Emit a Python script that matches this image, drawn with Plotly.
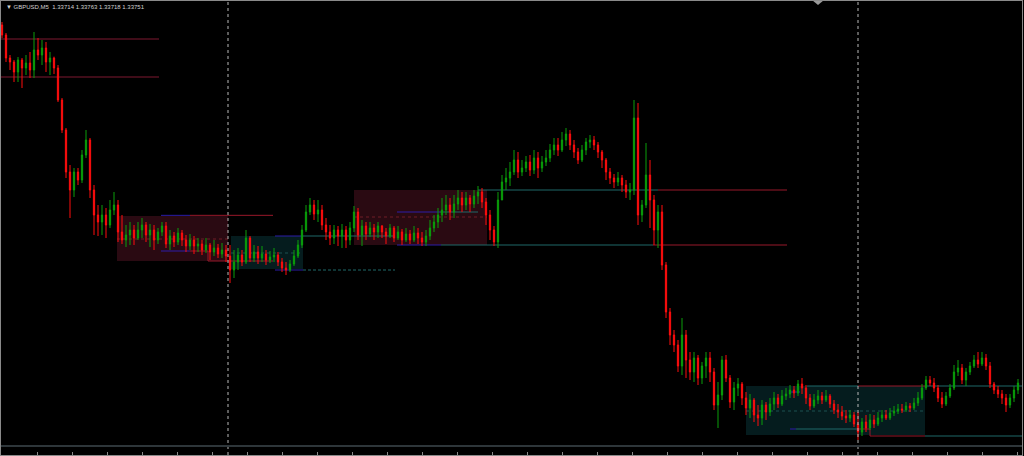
import plotly.graph_objects as go

# ---------------- data (GBPUSD, M5) ----------------
FIRST_OPEN = 1.34825
CLOSE = [
    1.34795, 1.34726, 1.34714, 1.34684, 1.34720, 1.34696, 1.34711, 1.34690, 1.34750, 1.34735,
    1.34756, 1.34714, 1.34726, 1.34696, 1.34600, 1.34510, 1.34384, 1.34330, 1.34384, 1.34360,
    1.34435, 1.34480, 1.34330, 1.34255, 1.34234, 1.34255, 1.34225, 1.34270, 1.34285, 1.34204,
    1.34180, 1.34195, 1.34210, 1.34186, 1.34210, 1.34225, 1.34195, 1.34210, 1.34180, 1.34204,
    1.34222, 1.34168, 1.34192, 1.34174, 1.34201, 1.34180, 1.34162, 1.34180, 1.34162, 1.34168,
    1.34150, 1.34165, 1.34144, 1.34156, 1.34138, 1.34150, 1.34132, 1.34090, 1.34114, 1.34135,
    1.34114, 1.34186, 1.34126, 1.34144, 1.34126, 1.34138, 1.34120, 1.34129, 1.34135, 1.34114,
    1.34096, 1.34090, 1.34108, 1.34132, 1.34165, 1.34210, 1.34264, 1.34285, 1.34258, 1.34270,
    1.34225, 1.34204, 1.34186, 1.34210, 1.34192, 1.34210, 1.34180, 1.34216, 1.34264, 1.34195,
    1.34222, 1.34198, 1.34216, 1.34204, 1.34222, 1.34204, 1.34192, 1.34216, 1.34186, 1.34204,
    1.34180, 1.34198, 1.34180, 1.34201, 1.34186, 1.34174, 1.34192, 1.34216, 1.34234, 1.34255,
    1.34270, 1.34285, 1.34264, 1.34288, 1.34306, 1.34285, 1.34306, 1.34288, 1.34312, 1.34324,
    1.34294, 1.34255, 1.34210, 1.34174, 1.34300, 1.34354, 1.34366, 1.34384, 1.34420, 1.34384,
    1.34396, 1.34414, 1.34390, 1.34426, 1.34396, 1.34414, 1.34426, 1.34450, 1.34465, 1.34450,
    1.34480, 1.34498, 1.34465, 1.34444, 1.34420, 1.34450, 1.34474, 1.34480, 1.34465, 1.34444,
    1.34420, 1.34384, 1.34366, 1.34354, 1.34366, 1.34345, 1.34324, 1.34330, 1.34546, 1.34255,
    1.34285, 1.34375, 1.34300, 1.34210, 1.34264, 1.34105, 1.33964, 1.33895, 1.33865, 1.33802,
    1.33895, 1.33820, 1.33784, 1.33826, 1.33766, 1.33802, 1.33826, 1.33784, 1.33685, 1.33715,
    1.33820, 1.33766, 1.33694, 1.33736, 1.33748, 1.33706, 1.33676, 1.33700, 1.33655, 1.33646,
    1.33685, 1.33664, 1.33688, 1.33706, 1.33688, 1.33712, 1.33718, 1.33730, 1.33721, 1.33748,
    1.33736, 1.33706, 1.33682, 1.33700, 1.33712, 1.33700, 1.33712, 1.33688, 1.33670, 1.33664,
    1.33652, 1.33646, 1.33655, 1.33628, 1.33604, 1.33634, 1.33616, 1.33640, 1.33628, 1.33646,
    1.33655, 1.33646, 1.33661, 1.33667, 1.33673, 1.33670, 1.33682, 1.33676, 1.33691, 1.33706,
    1.33736, 1.33760, 1.33751, 1.33736, 1.33706, 1.33688, 1.33712, 1.33736, 1.33784, 1.33796,
    1.33760, 1.33784, 1.33802, 1.33820, 1.33808, 1.33826, 1.33802, 1.33748, 1.33730, 1.33718,
    1.33706, 1.33685, 1.33706, 1.33730, 1.33751,
]
HIGH = [
    1.34834, 1.34801, 1.34735, 1.34720, 1.34729, 1.34726, 1.34735, 1.34744, 1.34804, 1.34786,
    1.34780, 1.34774, 1.34744, 1.34730, 1.34705, 1.34606, 1.34516, 1.34405, 1.34396, 1.34396,
    1.34450, 1.34510, 1.34486, 1.34345, 1.34285, 1.34285, 1.34276, 1.34300, 1.34324, 1.34300,
    1.34255, 1.34225, 1.34234, 1.34225, 1.34234, 1.34246, 1.34234, 1.34228, 1.34225, 1.34216,
    1.34234, 1.34234, 1.34210, 1.34204, 1.34216, 1.34210, 1.34195, 1.34198, 1.34192, 1.34186,
    1.34180, 1.34186, 1.34171, 1.34180, 1.34168, 1.34171, 1.34165, 1.34165, 1.34150, 1.34156,
    1.34150, 1.34210, 1.34192, 1.34165, 1.34162, 1.34162, 1.34150, 1.34147, 1.34156, 1.34144,
    1.34126, 1.34114, 1.34120, 1.34150, 1.34180, 1.34225, 1.34285, 1.34306, 1.34300, 1.34300,
    1.34285, 1.34246, 1.34225, 1.34225, 1.34222, 1.34228, 1.34222, 1.34234, 1.34282, 1.34276,
    1.34240, 1.34234, 1.34234, 1.34228, 1.34234, 1.34225, 1.34216, 1.34228, 1.34222, 1.34222,
    1.34213, 1.34216, 1.34210, 1.34222, 1.34216, 1.34204, 1.34210, 1.34240, 1.34255, 1.34276,
    1.34306, 1.34315, 1.34306, 1.34315, 1.34330, 1.34324, 1.34324, 1.34315, 1.34330, 1.34342,
    1.34336, 1.34306, 1.34270, 1.34222, 1.34324, 1.34375, 1.34396, 1.34414, 1.34450, 1.34444,
    1.34420, 1.34432, 1.34435, 1.34450, 1.34444, 1.34432, 1.34450, 1.34468, 1.34486, 1.34486,
    1.34504, 1.34516, 1.34510, 1.34480, 1.34456, 1.34465, 1.34486, 1.34495, 1.34492, 1.34474,
    1.34450, 1.34426, 1.34396, 1.34378, 1.34384, 1.34375, 1.34360, 1.34351, 1.34600, 1.34591,
    1.34300, 1.34471, 1.34420, 1.34315, 1.34285, 1.34285, 1.34114, 1.33976, 1.33910, 1.33880,
    1.33946, 1.33910, 1.33844, 1.33844, 1.33835, 1.33814, 1.33844, 1.33844, 1.33796, 1.33754,
    1.33832, 1.33835, 1.33775, 1.33754, 1.33766, 1.33754, 1.33724, 1.33718, 1.33706, 1.33685,
    1.33700, 1.33694, 1.33706, 1.33724, 1.33718, 1.33730, 1.33736, 1.33745, 1.33742, 1.33760,
    1.33766, 1.33745, 1.33718, 1.33718, 1.33730, 1.33724, 1.33730, 1.33718, 1.33700, 1.33688,
    1.33682, 1.33670, 1.33670, 1.33664, 1.33664, 1.33646, 1.33655, 1.33658, 1.33655, 1.33664,
    1.33670, 1.33670, 1.33676, 1.33682, 1.33688, 1.33688, 1.33694, 1.33691, 1.33706, 1.33724,
    1.33748, 1.33772, 1.33772, 1.33766, 1.33745, 1.33724, 1.33724, 1.33748, 1.33805, 1.33820,
    1.33808, 1.33796, 1.33814, 1.33835, 1.33844, 1.33844, 1.33838, 1.33814, 1.33754, 1.33742,
    1.33730, 1.33718, 1.33718, 1.33742, 1.33763,
]
LOW = [
    1.34786, 1.34714, 1.34690, 1.34654, 1.34654, 1.34636, 1.34675, 1.34666, 1.34666, 1.34720,
    1.34705, 1.34684, 1.34675, 1.34678, 1.34594, 1.34501, 1.34366, 1.34246, 1.34309, 1.34345,
    1.34351, 1.34426, 1.34306, 1.34195, 1.34192, 1.34195, 1.34186, 1.34216, 1.34255, 1.34174,
    1.34168, 1.34159, 1.34165, 1.34165, 1.34180, 1.34186, 1.34174, 1.34159, 1.34150, 1.34168,
    1.34192, 1.34156, 1.34150, 1.34159, 1.34165, 1.34162, 1.34144, 1.34150, 1.34138, 1.34144,
    1.34135, 1.34141, 1.34120, 1.34132, 1.34126, 1.34126, 1.34114, 1.34051, 1.34066, 1.34090,
    1.34102, 1.34108, 1.34114, 1.34114, 1.34108, 1.34114, 1.34105, 1.34111, 1.34114, 1.34102,
    1.34084, 1.34075, 1.34084, 1.34102, 1.34126, 1.34156, 1.34204, 1.34255, 1.34240, 1.34234,
    1.34210, 1.34180, 1.34165, 1.34168, 1.34162, 1.34156, 1.34156, 1.34165, 1.34204, 1.34180,
    1.34162, 1.34180, 1.34189, 1.34180, 1.34186, 1.34186, 1.34168, 1.34186, 1.34174, 1.34180,
    1.34165, 1.34174, 1.34168, 1.34174, 1.34168, 1.34162, 1.34162, 1.34180, 1.34204, 1.34216,
    1.34234, 1.34255, 1.34240, 1.34246, 1.34270, 1.34264, 1.34270, 1.34264, 1.34276, 1.34288,
    1.34276, 1.34225, 1.34180, 1.34162, 1.34156, 1.34300, 1.34330, 1.34342, 1.34375, 1.34366,
    1.34372, 1.34384, 1.34372, 1.34378, 1.34366, 1.34384, 1.34402, 1.34414, 1.34435, 1.34432,
    1.34444, 1.34462, 1.34450, 1.34426, 1.34408, 1.34414, 1.34435, 1.34456, 1.34450, 1.34426,
    1.34396, 1.34360, 1.34348, 1.34336, 1.34342, 1.34324, 1.34306, 1.34300, 1.34315, 1.34225,
    1.34234, 1.34276, 1.34216, 1.34165, 1.34156, 1.34090, 1.33946, 1.33865, 1.33844, 1.33784,
    1.33775, 1.33766, 1.33760, 1.33754, 1.33745, 1.33748, 1.33766, 1.33754, 1.33670, 1.33616,
    1.33700, 1.33754, 1.33676, 1.33670, 1.33712, 1.33685, 1.33655, 1.33646, 1.33634, 1.33622,
    1.33625, 1.33640, 1.33652, 1.33670, 1.33676, 1.33682, 1.33700, 1.33706, 1.33706, 1.33712,
    1.33718, 1.33688, 1.33670, 1.33676, 1.33688, 1.33688, 1.33694, 1.33676, 1.33658, 1.33646,
    1.33640, 1.33631, 1.33634, 1.33619, 1.33580, 1.33592, 1.33604, 1.33610, 1.33616, 1.33622,
    1.33634, 1.33640, 1.33640, 1.33652, 1.33658, 1.33661, 1.33664, 1.33664, 1.33670, 1.33682,
    1.33700, 1.33730, 1.33742, 1.33724, 1.33694, 1.33676, 1.33682, 1.33706, 1.33730, 1.33772,
    1.33748, 1.33742, 1.33775, 1.33796, 1.33796, 1.33802, 1.33790, 1.33736, 1.33718, 1.33706,
    1.33688, 1.33664, 1.33676, 1.33694, 1.33718,
]
OPEN = [FIRST_OPEN] + CLOSE[:-1]
BAR_INDEX = list(range(len(CLOSE)))

TITLE_TEXT = "▼ GBPUSD,M5  1.33714 1.33763 1.33718 1.33751"

# supply / demand zones (bar index from-to, price top/bottom, middle dashed level)
ZONE_X0 = [28.75, 57.25, 88.0, 186.0]
ZONE_X1 = [56.5, 75.25, 121.25, 230.75]
ZONE_TOP = [1.34252, 1.34192, 1.34330, 1.33742]
ZONE_BOTTOM = [1.34117, 1.34093, 1.34165, 1.33595]
ZONE_MID = [1.34183, 1.34141, 1.34249, 1.33667]
ZONE_KIND = ["red", "teal", "red", "teal"]

# horizontal level segments
LEVEL_X0 = [-0.25, -0.25, 39.75, 47.0, 39.75, 47.0, 51.5, 51.5,
            68.25, 75.25, 68.25, 75.25,
            98.75, 109.5, 119.0, 164.0, 98.75, 109.75, 162.75,
            197.0, 201.25, 214.0, 230.75, 197.0, 198.5, 214.0, 217.0, 217.0, 230.75]
LEVEL_X1 = [39.25, 39.25, 47.0, 67.75, 47.0, 51.5, 51.5, 67.75,
            75.25, 98.25, 75.25, 98.25,
            109.5, 119.0, 164.0, 196.25, 109.75, 162.75, 196.25,
            199.5, 214.0, 230.75, 255.0, 198.5, 214.0, 217.0, 217.0, 230.75, 255.0]
LEVEL_Y0 = [1.34783, 1.34669, 1.34254, 1.34254, 1.34147, 1.34147, 1.34147, 1.34117,
            1.34192, 1.34192, 1.34090, 1.34090,
            1.34264, 1.34264, 1.34330, 1.34330, 1.34165, 1.34165, 1.34165,
            1.33724, 1.33742, 1.33742, 1.33742, 1.33613, 1.33613, 1.33613, 1.33613, 1.33592, 1.33592]
LEVEL_Y1 = [1.34783, 1.34669, 1.34254, 1.34254, 1.34147, 1.34147, 1.34117, 1.34117,
            1.34192, 1.34192, 1.34090, 1.34090,
            1.34264, 1.34264, 1.34330, 1.34330, 1.34165, 1.34165, 1.34165,
            1.33724, 1.33742, 1.33742, 1.33742, 1.33613, 1.33613, 1.33613, 1.33592, 1.33592, 1.33592]
LEVEL_KIND = ["maroon", "maroon", "blue", "red", "blue", "red", "red", "red",
              "blue", "teal", "blue", "teal",
              "blue", "teal", "teal", "red", "blue", "teal", "red",
              "blue", "teal", "red", "teal", "blue", "teal", "red", "red", "red", "teal"]
LEVEL_DASH = ["solid"] * 11 + ["3px,2px"] + ["solid"] * 17

SEPARATOR_X = [56.5, 214.0]
BASELINE_PRICE = 1.33562
SHIFT_MARK_X = 204.0

# ---------------- style ----------------
BULL = "#0a9e0a"
BEAR = "#ff0d0d"
ZONE_FILL = {"red": "#2a0a12", "teal": "#051c1e"}
ZONE_DASH_COLOR = {"red": "#6e1c26", "teal": "#1c5050"}
LEVEL_COLOR = {"maroon": "#7e1830", "red": "#98182a", "teal": "#1e6868", "blue": "#2c1ca8"}

fig = go.Figure(go.Candlestick(
    x=BAR_INDEX, open=OPEN, high=HIGH, low=LOW, close=CLOSE,
    increasing=dict(line=dict(color=BULL, width=1), fillcolor=BULL),
    decreasing=dict(line=dict(color=BEAR, width=1), fillcolor=BEAR),
    whiskerwidth=0, hoverinfo="skip",
))

shapes = []
for x0, x1, top, bot, mid, kind in zip(ZONE_X0, ZONE_X1, ZONE_TOP, ZONE_BOTTOM, ZONE_MID, ZONE_KIND):
    shapes.append(dict(type="rect", xref="x", yref="y", x0=x0, x1=x1, y0=bot, y1=top,
                       fillcolor=ZONE_FILL[kind], line=dict(width=0), layer="below"))
    shapes.append(dict(type="line", xref="x", yref="y", x0=x0, x1=x1, y0=mid, y1=mid,
                       line=dict(color=ZONE_DASH_COLOR[kind], width=1, dash="dot"), layer="below"))
for x0, x1, y0, y1, kind, dash in zip(LEVEL_X0, LEVEL_X1, LEVEL_Y0, LEVEL_Y1, LEVEL_KIND, LEVEL_DASH):
    shapes.append(dict(type="line", xref="x", yref="y", x0=x0, x1=x1, y0=y0, y1=y1,
                       line=dict(color=LEVEL_COLOR[kind], width=1, dash=dash), layer="below"))
for sx in SEPARATOR_X:
    shapes.append(dict(type="line", xref="x", yref="paper", x0=sx, x1=sx, y0=0, y1=1,
                       line=dict(color="#b8b8b8", width=1, dash="dot"), layer="above"))
shapes.append(dict(type="line", xref="paper", yref="y", x0=0, x1=1, y0=BASELINE_PRICE, y1=BASELINE_PRICE,
                   line=dict(color="#2e363a", width=2), layer="above"))
shapes.append(dict(type="path", xref="x", yref="paper",
                   path=f"M {SHIFT_MARK_X - 1.2},1 L {SHIFT_MARK_X + 1.2},1 L {SHIFT_MARK_X},0.991 Z",
                   fillcolor="#9a9a9a", line=dict(width=0)))

fig.update_layout(
    width=1024, height=456,
    margin=dict(l=1, r=2, t=1, b=1, pad=0),
    paper_bgcolor="black", plot_bgcolor="black",
    showlegend=False, boxgap=0.55,
    shapes=shapes,
    xaxis=dict(range=[-0.25, 255.0], rangeslider=dict(visible=False), showgrid=False, zeroline=False,
               showticklabels=False, ticks="inside", ticklen=3, tickcolor="#8a8a8a",
               tick0=8.75, dtick=8.75, showline=True, linecolor="#8a8a8a", linewidth=1, mirror=True),
    yaxis=dict(range=[1.33535, 1.34897], showgrid=False, zeroline=False, showticklabels=False,
               ticks="", showline=True, linecolor="#8a8a8a", linewidth=1, mirror=True),
    annotations=[dict(text=TITLE_TEXT, xref="paper", yref="paper", x=0.003, y=0.998,
                      xanchor="left", yanchor="top", showarrow=False,
                      font=dict(family="Liberation Sans Narrow, Liberation Sans, sans-serif",
                                size=6, color="#d0d0d0"))],
)

fig.write_html("out.html", config={"displayModeBar": False},
               post_script="document.body.style.margin='0';document.body.style.background='black';")
